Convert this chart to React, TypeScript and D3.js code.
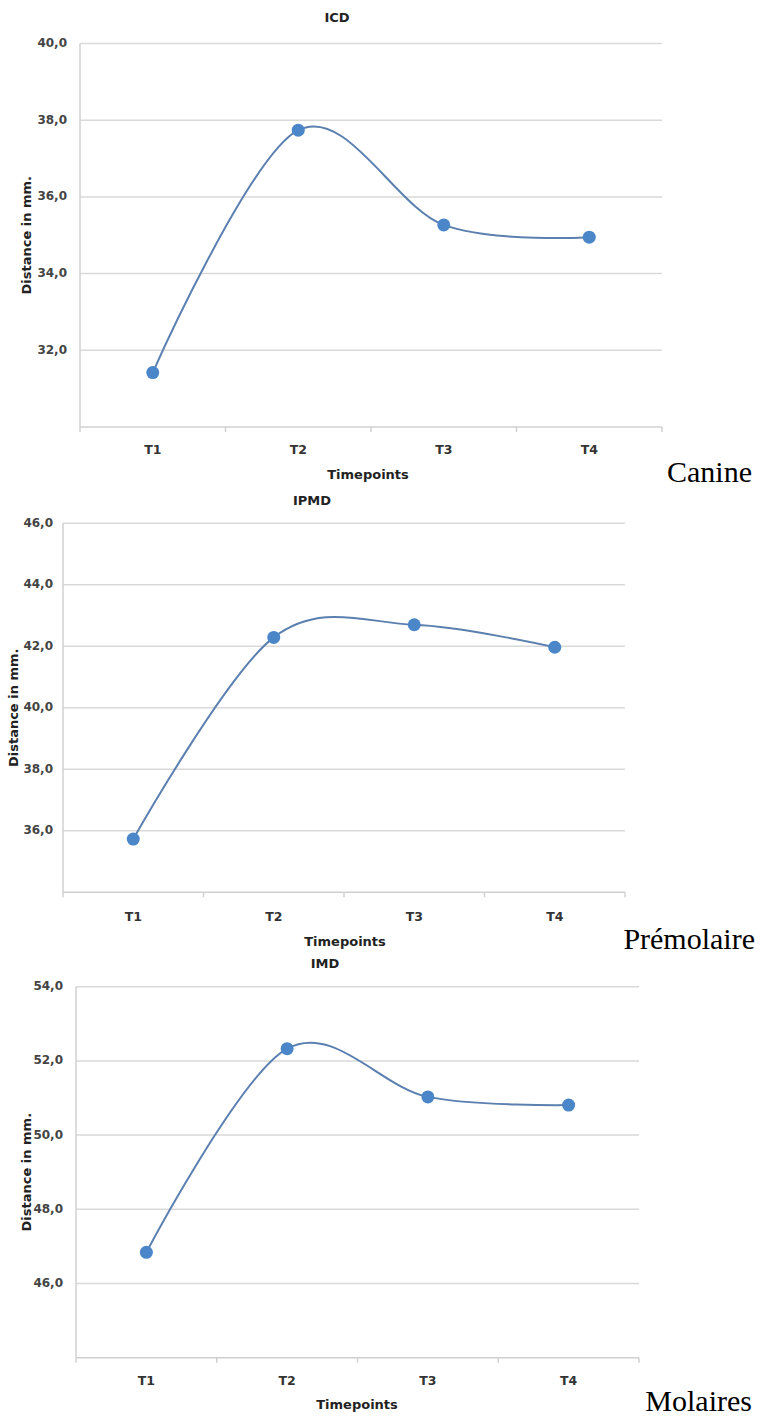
import React from "react";
import * as d3 from "d3";

const timepoints = ["T1", "T2", "T3", "T4"];

const icdValues = [31.42, 37.74, 35.27, 34.95];
const ipmdValues = [35.73, 42.29, 42.7, 41.97];
const imdValues = [46.84, 52.33, 51.03, 50.81];

const icdTicks = [30, 32, 34, 36, 38, 40];
const ipmdTicks = [34, 36, 38, 40, 42, 44, 46];
const imdTicks = [44, 46, 48, 50, 52, 54];

const chartTitles = ["ICD", "IPMD", "IMD"];
const sideLabels = ["Canine", "Prémolaire", "Molaires"];
const xAxisTitle = "Timepoints";
const yAxisTitle = "Distance in mm.";

const FONT = "'DejaVu Sans', sans-serif";
const LINE = "#5b80b0";
const MARK = "#4a86c8";
const GRID = "#d9d9d9";

type Layout = {
  left: number; right: number; top: number; bottom: number;
  titleX: number; titleY: number; yLabelX: number; tickRight: number;
  tLabelY: number; axisTitleX: number; axisTitleY: number;
  sideRight: number; sideBaseline: number;
};

const layouts: Layout[] = [
  { left: 80, right: 662, top: 43.5, bottom: 427, titleX: 337, titleY: 18, yLabelX: 27, tickRight: 67, tLabelY: 450, axisTitleX: 368, axisTitleY: 475, sideRight: 752, sideBaseline: 482 },
  { left: 63, right: 625, top: 523.3, bottom: 892.3, titleX: 312, titleY: 501, yLabelX: 14, tickRight: 53, tLabelY: 917, axisTitleX: 345, axisTitleY: 942, sideRight: 755, sideBaseline: 949 },
  { left: 76, right: 639, top: 986.7, bottom: 1357.7, titleX: 325, titleY: 964, yLabelX: 27, tickRight: 63, tLabelY: 1381, axisTitleX: 357, axisTitleY: 1405, sideRight: 752, sideBaseline: 1411 },
];

function Panel({ values, ticks, title, side, L }: { values: number[]; ticks: number[]; title: string; side: string; L: Layout }) {
  const x = d3.scaleBand<string>().domain(timepoints).range([L.left, L.right]).padding(0);
  const y = d3.scaleLinear().domain([ticks[0], ticks[ticks.length - 1]]).range([L.bottom, L.top]);
  const pts: [number, number][] = values.map((v, i) => [x(timepoints[i])! + x.bandwidth() / 2, y(v)]);
  const line = d3.line().curve(d3.curveCardinal.tension(0))(pts) || "";
  const fmt = (v: number) => v.toFixed(1).replace(".", ",");
  const bounds = [...timepoints.map((t) => x(t)!), L.right];
  return (
    <g>
      <text x={L.titleX} y={L.titleY} textAnchor="middle" dominantBaseline="middle" fontFamily={FONT} fontWeight="bold" fontSize={13} fill="#222">{title}</text>
      {ticks.slice(1).map((t) => (
        <line key={t} x1={L.left} x2={L.right} y1={y(t)} y2={y(t)} stroke={GRID} strokeWidth={1.5} />
      ))}
      <line x1={L.left} x2={L.left} y1={L.top} y2={L.bottom} stroke="#d0d0d0" strokeWidth={1.5} />
      <line x1={L.left} x2={L.right} y1={L.bottom} y2={L.bottom} stroke="#d0d0d0" strokeWidth={1.5} />
      {bounds.map((b, i) => (
        <line key={i} x1={b} x2={b} y1={L.bottom} y2={L.bottom + 5} stroke="#d0d0d0" strokeWidth={1.5} />
      ))}
      {ticks.slice(1).map((t) => (
        <text key={t} x={L.tickRight} y={y(t)} textAnchor="end" dominantBaseline="middle" fontFamily={FONT} fontWeight="bold" fontSize={12} fill="#444">{fmt(t)}</text>
      ))}
      {timepoints.map((t) => (
        <text key={t} x={x(t)! + x.bandwidth() / 2} y={L.tLabelY} textAnchor="middle" dominantBaseline="middle" fontFamily={FONT} fontWeight="bold" fontSize={12.5} fill="#333">{t}</text>
      ))}
      <text x={L.axisTitleX} y={L.axisTitleY} textAnchor="middle" dominantBaseline="middle" fontFamily={FONT} fontWeight="bold" fontSize={13} fill="#222">{xAxisTitle}</text>
      <text transform={`translate(${L.yLabelX},${(L.top + L.bottom) / 2}) rotate(-90)`} textAnchor="middle" dominantBaseline="middle" fontFamily={FONT} fontWeight="bold" fontSize={13} fill="#222">{yAxisTitle}</text>
      <path d={line} fill="none" stroke={LINE} strokeWidth={2} />
      {pts.map((p, i) => (
        <circle key={i} cx={p[0]} cy={p[1]} r={6.5} fill={MARK} />
      ))}
      <text x={L.sideRight} y={L.sideBaseline} textAnchor="end" fontFamily="'Liberation Serif', 'Times New Roman', serif" fontSize={30} fill="#000">{side}</text>
    </g>
  );
}

export default function App() {
  const data = [icdValues, ipmdValues, imdValues];
  const tickSets = [icdTicks, ipmdTicks, imdTicks];
  return (
    <svg width={766} height={1416} style={{ position: "absolute", left: 0, top: 0, background: "#fff" }}>
      <rect width={766} height={1416} fill="#fff" />
      {data.map((vals, i) => (
        <Panel key={i} values={vals} ticks={tickSets[i]} title={chartTitles[i]} side={sideLabels[i]} L={layouts[i]} />
      ))}
    </svg>
  );
}
